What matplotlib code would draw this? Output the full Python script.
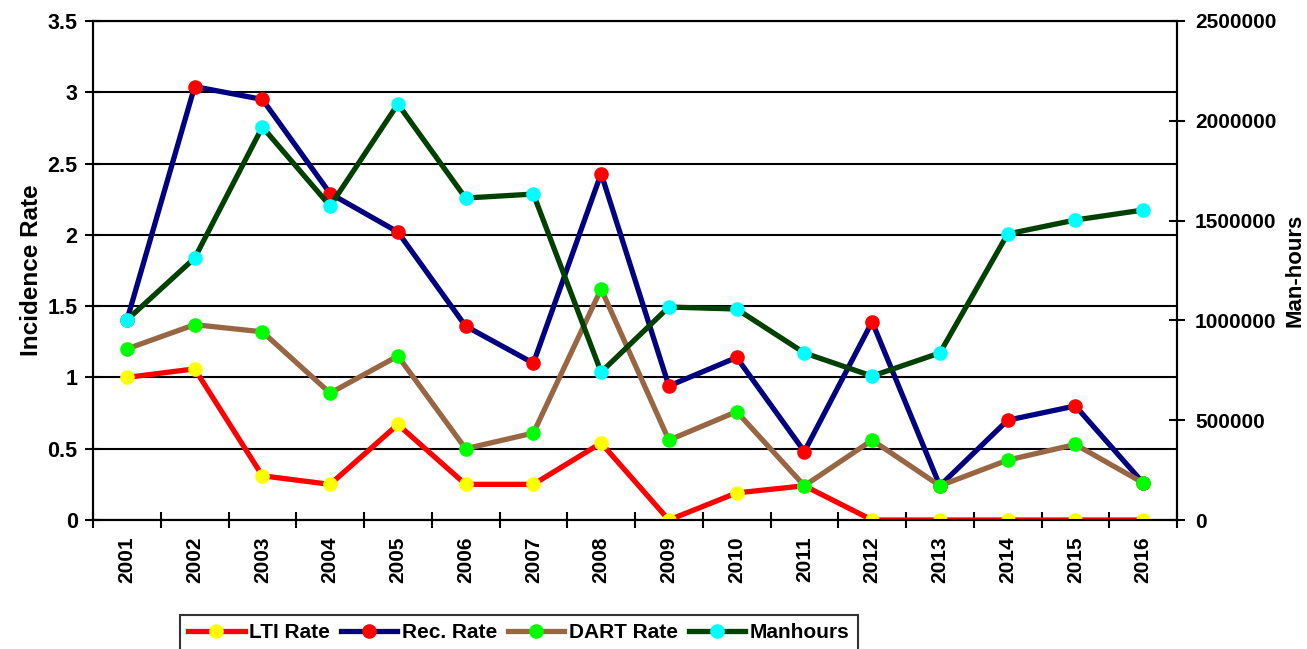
import matplotlib
matplotlib.use("Agg")
import matplotlib.pyplot as plt
from matplotlib.ticker import FixedLocator, NullFormatter

plt.rcParams['font.family'] = ['Liberation Sans', 'DejaVu Sans']
plt.rcParams['font.weight'] = 'bold'

years = ['2001', '2002', '2003', '2004', '2005', '2006', '2007', '2008',
         '2009', '2010', '2011', '2012', '2013', '2014', '2015', '2016']
lti_rate = [1.00, 1.06, 0.31, 0.25, 0.67, 0.25, 0.25, 0.54,
            0.00, 0.19, 0.24, 0.00, 0.00, 0.00, 0.00, 0.00]
rec_rate = [1.40, 3.04, 2.95, 2.29, 2.02, 1.36, 1.10, 2.43,
            0.94, 1.14, 0.48, 1.39, 0.24, 0.70, 0.80, 0.26]
dart_rate = [1.20, 1.37, 1.32, 0.89, 1.15, 0.50, 0.61, 1.62,
             0.56, 0.76, 0.24, 0.56, 0.24, 0.42, 0.53, 0.26]
manhours = [1002000, 1312000, 1969000, 1573000, 2084000, 1613000, 1633000, 741000,
            1067000, 1057000, 837000, 721000, 837000, 1433000, 1503000, 1553000]

fig = plt.figure(figsize=(13.07, 6.49), dpi=100)
ax = fig.add_axes([93/1307, 1-520/649, (1177-93)/1307, (520-21)/649])
ax2 = ax.twinx()

x = list(range(len(years)))
lw = 3.8
ms = 9.5
l1, = ax.plot(x, lti_rate, color='#FF0000', lw=lw, marker='o', ms=ms,
              mfc='#FFFF00', mec='#FFFF00', label='LTI Rate', zorder=3)
l2, = ax.plot(x, rec_rate, color='#000080', lw=lw, marker='o', ms=ms,
              mfc='#FF0000', mec='#FF0000', label='Rec. Rate', zorder=4)
l3, = ax.plot(x, dart_rate, color='#996644', lw=lw, marker='o', ms=ms,
              mfc='#00FF00', mec='#00FF00', label='DART Rate', zorder=5)
l4, = ax2.plot(x, manhours, color='#004000', lw=lw, marker='o', ms=ms,
               mfc='#00FFFF', mec='#00FFFF', label='Manhours', zorder=3)

ax.set_xlim(-0.5, len(years) - 0.5)
ax.set_ylim(0, 3.5)
ax2.set_ylim(0, 2500000)

ax.set_yticks([0, 0.5, 1, 1.5, 2, 2.5, 3, 3.5])
ax.set_yticklabels(['0', '0.5', '1', '1.5', '2', '2.5', '3', '3.5'])
ax2.set_yticks([0, 500000, 1000000, 1500000, 2000000, 2500000])
ax2.set_yticklabels(['0', '500000', '1000000', '1500000', '2000000', '2500000'])

ax.set_xticks(x)
ax.set_xticklabels(years, rotation=90)
ax.tick_params(axis='x', which='major', length=0, pad=12, labelsize=15)
ax.xaxis.set_minor_locator(FixedLocator([i - 0.5 for i in range(len(years) + 1)]))
ax.xaxis.set_minor_formatter(NullFormatter())
ax.tick_params(axis='x', which='minor', direction='inout', length=12, width=1.5, color='black')
ax.tick_params(axis='y', direction='inout', length=12, width=1.5, labelsize=15.5, pad=5)
ax2.tick_params(axis='y', direction='inout', length=12, width=1.5, labelsize=15, pad=7)

ax.grid(axis='y', color='black', lw=1.5, zorder=0)
ax.set_axisbelow(True)
for s in ['left', 'bottom', 'right', 'top']:
    ax.spines[s].set_linewidth(1.5)
    ax2.spines[s].set_linewidth(1.5)

ax.set_ylabel('Incidence Rate', fontsize=17.5, fontweight='bold', labelpad=3)
ax2.set_ylabel('Man-hours', fontsize=16, fontweight='bold', labelpad=6)

leg = fig.legend(handles=[l1, l2, l3, l4], loc='upper left',
                 bbox_to_anchor=(180/1307, 1-615/649), ncol=4, frameon=True,
                 fancybox=False, edgecolor='black',
                 prop={'weight': 'bold', 'size': 15},
                 handlelength=2.7, handletextpad=0.2, columnspacing=0.55,
                 borderpad=0.4, numpoints=1, borderaxespad=0)
leg.get_frame().set_linewidth(1.5)

fig.savefig('out.png', dpi=100)
